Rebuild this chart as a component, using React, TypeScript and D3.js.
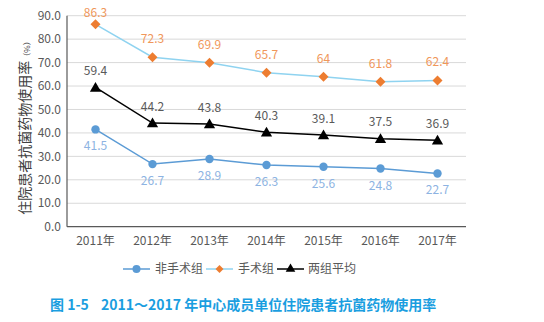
import React from "react";
import * as d3 from "d3";

const years = ["2011年", "2012年", "2013年", "2014年", "2015年", "2016年", "2017年"];
const nonSurgery = [41.5, 26.7, 28.9, 26.3, 25.6, 24.8, 22.7];
const surgery = [86.3, 72.3, 69.9, 65.7, 64, 61.8, 62.4];
const average = [59.4, 44.2, 43.8, 40.3, 39.1, 37.5, 36.9];
const yTicks = [0, 10, 20, 30, 40, 50, 60, 70, 80, 90];

const FONT = "'Noto Sans CJK SC', 'Noto Sans', sans-serif";

export default function App() {
  const W = 544, H = 322;
  const left = 67, right = 466, top = 15.7, bottom = 226.7;
  const x = d3.scaleBand<string>().domain(years).range([left, right]);
  const y = d3.scaleLinear().domain([0, 90]).range([bottom, top]);
  const cx = (i: number) => (x(years[i]) as number) + x.bandwidth() / 2;
  const line = d3.line<number>().x((_, i) => cx(i)).y((d) => y(d));
  const tri = d3.symbol().type(d3.symbolTriangle).size(55)() as string;
  const dia = "M0,-5L5,0L0,5L-5,0Z";
  const diaS = "M0,-4L4,0L0,4L-4,0Z";

  return (
    <svg width={W} height={H} style={{ position: "absolute", left: 0, top: 0, fontFamily: FONT }}>
      <rect width={W} height={H} fill="#fff" />
      {yTicks.map((t) => (
        <g key={t}>
          {t > 0 && <line x1={left} x2={right} y1={y(t)} y2={y(t)} stroke="#d9d9d9" strokeWidth={1} />}
          <text x={61} y={y(t)} dy="0.35em" textAnchor="end" fontSize={12} fill="#595959">{t.toFixed(1)}</text>
        </g>
      ))}
      <line x1={left} x2={left} y1={top} y2={bottom} stroke="#595959" strokeWidth={1.2} />
      <line x1={left} x2={right} y1={bottom} y2={bottom} stroke="#595959" strokeWidth={1.2} />
      {years.map((yr, i) => (
        <text key={yr} x={cx(i)} y={241} dy="0.35em" textAnchor="middle" fontSize={12} fill="#595959">{yr}</text>
      ))}
      <text transform={`translate(25,126) rotate(-90)`} textAnchor="middle" dy="0.35em" fontSize={14} fill="#404040">
        住院患者抗菌药物使用率<tspan fontSize={8}>（%）</tspan>
      </text>

      <path d={line(surgery) as string} fill="none" stroke="#8fd3f0" strokeWidth={1.5} />
      <path d={line(average) as string} fill="none" stroke="#000" strokeWidth={1.5} />
      <path d={line(nonSurgery) as string} fill="none" stroke="#5b9bd5" strokeWidth={1.5} />

      {surgery.map((v, i) => (
        <g key={"s" + i}>
          <path d={dia} transform={`translate(${cx(i)},${y(v)})`} fill="#ed7d31" />
          <text x={cx(i)} y={Math.max(y(v) - 14, 16.5)} textAnchor="middle" fontSize={12} fill="#f0975a">{String(v)}</text>
        </g>
      ))}
      {average.map((v, i) => (
        <g key={"a" + i}>
          <path d={tri} transform={`translate(${cx(i)},${y(v) + 1})`} fill="#000" />
          <text x={cx(i)} y={y(v) - 12.5} textAnchor="middle" fontSize={12} fill="#595959">{String(v)}</text>
        </g>
      ))}
      {nonSurgery.map((v, i) => (
        <g key={"n" + i}>
          <circle cx={cx(i)} cy={y(v)} r={4.2} fill="#5b9bd5" />
          <text x={cx(i)} y={y(v) + 21} textAnchor="middle" fontSize={12} fill="#8db3e2">{String(v)}</text>
        </g>
      ))}

      <g fontSize={12} fill="#595959">
        <line x1={123} x2={150} y1={269} y2={269} stroke="#5b9bd5" strokeWidth={1.5} />
        <circle cx={136.5} cy={269} r={4} fill="#5b9bd5" />
        <text x={155} y={269} dy="0.35em">非手术组</text>
        <line x1={206} x2={233} y1={269} y2={269} stroke="#8fd3f0" strokeWidth={1.5} />
        <path d={diaS} transform="translate(219.5,269)" fill="#ed7d31" />
        <text x={238} y={269} dy="0.35em">手术组</text>
        <line x1={277} x2={304} y1={269} y2={269} stroke="#000" strokeWidth={1.5} />
        <path d={d3.symbol().type(d3.symbolTriangle).size(40)() as string} transform="translate(290.5,269)" fill="#000" />
        <text x={308} y={269} dy="0.35em">两组平均</text>
      </g>

      <g fontSize={14} fontWeight="bold" fill="#1a9ee0">
        <text x={50} y={305} dy="0.35em">图 1-5</text>
        <text x={101} y={305} dy="0.35em">2011～2017 年中心成员单位住院患者抗菌药物使用率</text>
      </g>
    </svg>
  );
}
